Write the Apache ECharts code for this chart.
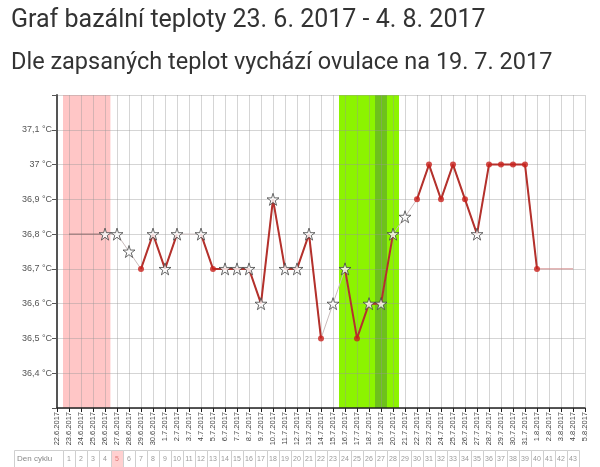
<!DOCTYPE html>
<html>
<head>
<meta charset="utf-8">
<script src="https://cdn.jsdelivr.net/npm/echarts@6/dist/echarts.min.js"></script>
<style>
html,body{margin:0;padding:0;background:#fff;}
#c{width:600px;height:467px;}
</style>
</head>
<body>
<div id="c"></div>
<script>
const titleText = 'Graf bazální teploty 23. 6. 2017 - 4. 8. 2017';
const subtitleText = 'Dle zapsaných teplot vychází ovulace na 19. 7. 2017';

const dates = ['22.6.2017','23.6.2017','24.6.2017','25.6.2017','26.6.2017','27.6.2017','28.6.2017','29.6.2017','30.6.2017',
  '1.7.2017','2.7.2017','3.7.2017','4.7.2017','5.7.2017','6.7.2017','7.7.2017','8.7.2017','9.7.2017','10.7.2017',
  '11.7.2017','12.7.2017','13.7.2017','14.7.2017','15.7.2017','16.7.2017','17.7.2017','18.7.2017','19.7.2017','20.7.2017',
  '21.7.2017','22.7.2017','23.7.2017','24.7.2017','25.7.2017','26.7.2017','27.7.2017','28.7.2017','29.7.2017','30.7.2017',
  '31.7.2017','1.8.2017','2.8.2017','3.8.2017','4.8.2017','5.8.2017'];

// measured temperatures (null = not measured)
const temps = [null,null,null,null,36.8,36.8,36.75,36.7,36.8,
  36.7,36.8,null,36.8,36.7,36.7,36.7,36.7,36.6,36.9,
  36.7,36.7,36.8,36.5,36.6,36.7,36.5,36.6,36.6,36.8,
  36.85,36.9,37.0,36.9,37.0,36.9,36.8,37.0,37.0,37.0,
  37.0,36.7,null,null,null,null];
// marker type: s = star, d = dot
const markers = ['','','','','s','s','s','d','s',
  's','s','','s','d','s','s','s','s','s',
  's','s','s','d','s','s','d','s','s','s',
  's','d','d','d','d','d','s','d','d','d',
  'd','d','','','',''];
// points linked only with thin grey line
const thinDates = ['26.6.2017','27.6.2017','28.6.2017','15.7.2017','21.7.2017'];
// padding lines for unmeasured days
const padStartDates = ['23.6.2017','24.6.2017','25.6.2017','26.6.2017'];
const padStartTemp = 36.8;
const padEndDates = ['1.8.2017','2.8.2017','3.8.2017','4.8.2017'];
const padEndTemp = 36.7;

// bands
const menstruationRange = ['23.6.2017','26.6.2017'];
const fertileRange = ['16.7.2017','20.7.2017'];
const ovulationDate = '19.7.2017';

// cycle days table
const cycleDays = [1,2,3,4,5,6,7,8,9,10,11,12,13,14,15,16,17,18,19,20,21,22,23,24,25,26,27,28,29,30,31,32,33,34,35,36,37,38,39,40,41,42,43];
const cycleStartDate = '23.6.2017';
const highlightedCycleDay = 5;

const yTicks = [36.4,36.5,36.6,36.7,36.8,36.9,37.0,37.1];

const idx = d => dates.indexOf(d);
const fmtT = v => (Math.round(v*10)/10).toString().replace('.', ',') + ' °C';

const thinData = temps.map((t,i)=> t===null?null:[i,t]).filter(Boolean);
const redData = temps.map((t,i)=> [i, (t===null || thinDates.includes(dates[i])) ? null : t]);
const starData = temps.map((t,i)=> markers[i]==='s'?[i,t]:null).filter(Boolean);
const dotData = temps.map((t,i)=> markers[i]==='d'?[i,t]:null).filter(Boolean);
const padStartData = padStartDates.map(d=>[idx(d), padStartTemp]);
const padEndData = padEndDates.map(d=>[idx(d), padEndTemp]);

const starPath = 'path://M50,2 L61,37 L98,37 L68,59 L79,94 L50,72 L21,94 L32,59 L2,37 L39,37 Z';

const chart = echarts.init(document.getElementById('c'), null, {renderer:'canvas'});
const FONT = 'Roboto, "Noto Sans", sans-serif';

chart.setOption({
  animation:false,
  backgroundColor:'#fff',
  title:[
    {text:titleText,left:6,top:3,textStyle:{fontFamily:FONT,fontSize:25,fontWeight:'normal',color:'#333'}},
    {text:subtitleText,left:6,top:46,textStyle:{fontFamily:FONT,fontSize:23.5,fontWeight:'normal',color:'#333'}}
  ],
  grid:{left:57,right:15,top:95,bottom:59},
  xAxis:{
    type:'value',min:0,max:dates.length-1,interval:1,z:2,
    axisLine:{show:true,onZero:false,lineStyle:{color:'#222',width:1.5}},
    axisTick:{show:true,length:4,lineStyle:{color:'#222'}},
    axisLabel:{rotate:90,fontSize:7.5,color:'#444',margin:4,fontFamily:'Arial, "Liberation Sans", sans-serif',
      showMinLabel:true,showMaxLabel:true,formatter:v=>dates[v]||''},
    splitLine:{show:true,lineStyle:{color:'rgba(150,150,150,0.4)',width:1}}
  },
  yAxis:{
    type:'value',min:36.3,max:37.2,interval:0.1,z:2,
    axisLine:{show:true,lineStyle:{color:'#555',width:2}},
    axisTick:{show:true,length:5,lineStyle:{color:'#555'}},
    axisLabel:{fontSize:9,color:'#555',margin:5,fontFamily:'Arial, "Liberation Sans", sans-serif',
      formatter:v=> yTicks.some(t=>Math.abs(t-v)<1e-6) ? fmtT(v) : ''},
    splitLine:{show:true,lineStyle:{color:'rgba(150,150,150,0.4)',width:1}}
  },
  series:[
    {type:'line',data:[],z:1,silent:true,
      markArea:{silent:true,data:[
        [{xAxis:idx(menstruationRange[0])-0.5,itemStyle:{color:'#ffc6c6'}},{xAxis:idx(menstruationRange[1])+0.45}],
        [{xAxis:idx(fertileRange[0])-0.5,itemStyle:{color:'#8cf400'}},{xAxis:idx(fertileRange[1])+0.5}],
        [{xAxis:idx(ovulationDate)-0.5,itemStyle:{color:'#6ec11c'}},{xAxis:idx(ovulationDate)+0.5}]
      ]}},
    {type:'line',data:padStartData,z:3,symbol:'none',lineStyle:{color:'#8a6a6a',width:1}},
    {type:'line',data:padEndData,z:3,symbol:'none',lineStyle:{color:'#d48a8a',width:1}},
    {type:'line',data:thinData,z:3,symbol:'none',lineStyle:{color:'#c9bcbc',width:1}},
    {type:'line',data:redData,z:4,symbol:'none',connectNulls:false,lineStyle:{color:'#b4312c',width:2}},
    {type:'scatter',data:dotData,z:5,symbol:'circle',symbolSize:6,itemStyle:{color:'#c8201c'}},
    {type:'scatter',data:starData,z:6,symbol:starPath,symbolSize:12,itemStyle:{color:'#fff',borderColor:'#444',borderWidth:1}}
  ]
});

// cycle-day table under the axis
const g = [];
const rowTop = 450, rowH = 18;
const cellW = 12;
const startIdx = idx(cycleStartDate);
const leftCellX = 14;
const firstCellLeft = chart.convertToPixel({xAxisIndex:0}, startIdx) - cellW/2;
g.push({type:'rect',shape:{x:leftCellX+0.5,y:rowTop+0.5,width:firstCellLeft-leftCellX,height:rowH},style:{fill:'#fff',stroke:'#cfcfcf',lineWidth:1}});
g.push({type:'text',x:leftCellX+3,y:rowTop+rowH/2,style:{text:'Den cyklu',fill:'#888',font:'8px Arial, "Liberation Sans", sans-serif',verticalAlign:'middle'}});
cycleDays.forEach((d,k)=>{
  const cx = chart.convertToPixel({xAxisIndex:0}, startIdx + k);
  const hl = d === highlightedCycleDay;
  g.push({type:'rect',shape:{x:Math.round(cx-cellW/2)+0.5,y:rowTop+0.5,width:cellW,height:rowH},style:{fill:hl?'#ffd0d0':'#fff',stroke:'#cfcfcf',lineWidth:1}});
  g.push({type:'text',x:cx,y:rowTop+rowH/2,style:{text:String(d),fill:hl?'#e07a7a':'#999',font:'7px Arial, "Liberation Sans", sans-serif',align:'center',verticalAlign:'middle'}});
});
chart.setOption({graphic:g});
</script>
</body>
</html>
